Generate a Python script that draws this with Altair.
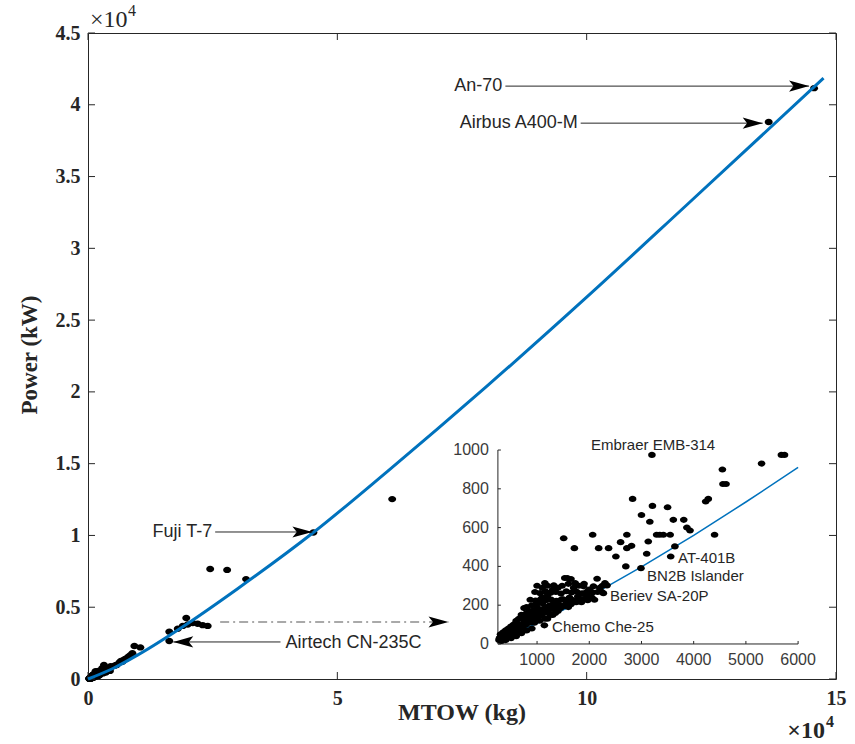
import altair as alt
import pandas as pd

# ---- aircraft data: maximum take-off weight (kg) and installed power (kW) ----
# light aircraft (shown again in the zoomed panel)
small_mtow = [
    3200, 5680, 5740, 5300, 4550, 4560, 4620, 4230, 4280, 2830,
    3210, 3500, 3000, 3160, 3610, 3810, 3870, 3930, 3290, 3350,
    3420, 3550, 4400, 1510, 2065, 1715, 2180, 2370, 2600, 2720,
    2720, 2810, 2510, 3130, 3100, 3640, 3560, 2700, 2990, 1530,
    1580, 1150, 1320, 1730, 1890, 2080, 2150, 2300, 2340, 2270,
    1140,
    270, 300, 330, 360, 390, 420, 450, 480, 510, 540,
    560, 590, 620, 650, 680, 700, 730, 760, 790, 820,
    850, 880, 900, 930, 960, 990, 1020, 1050, 1080, 1110,
    1140, 1170, 1200, 1240, 1280, 1320, 1360, 1400, 1450, 1500,
    1560, 1620, 1700, 1780, 1860, 1950, 2050,
    400, 500, 600, 700, 800, 900, 950, 1200, 1300, 1400,
    1600, 650, 700, 750, 800, 850, 900, 1000,
    960, 1060, 1160, 1260, 1360, 1460, 1560, 1660, 1760, 1860,
    1960, 2060, 2160, 2230,
    870, 970, 1070, 1170, 1270, 1370, 1470, 1570, 1670, 1770,
    1870, 1970, 2100,
    350, 450, 550, 600, 650, 750, 850, 950, 1050, 1100,
    1150, 1250, 1350, 1450, 1550, 1650, 1750, 1850, 1900, 2000,
    2200, 2250, 1000, 1100, 1200, 900, 800, 700, 600, 500,
    400, 300, 320, 280, 1300, 1400, 1200, 1000, 1100, 1700,
    1800, 1900, 1600, 1650, 1480,
]
small_power = [
    975, 975, 975, 930, 900, 825, 825, 735, 748, 748,
    712, 705, 665, 630, 640, 640, 600, 585, 563, 563,
    563, 563, 563, 545, 563, 494, 494, 494, 525, 563,
    494, 506, 451, 528, 465, 503, 451, 400, 391, 340,
    340, 314, 302, 314, 297, 297, 336, 314, 302, 262,
    96,
    20, 35, 25, 45, 30, 55, 40, 65, 50, 75,
    60, 85, 70, 95, 80, 100, 90, 115, 100, 125,
    110, 135, 120, 150, 130, 160, 140, 170, 150, 180,
    160, 190, 170, 200, 180, 210, 190, 220, 200, 230,
    210, 240, 220, 245, 230, 250, 240,
    20, 30, 40, 55, 70, 80, 110, 130, 150, 170,
    190, 130, 150, 185, 190, 170, 200, 210,
    268, 262, 271, 264, 268, 260, 272, 265, 269, 261,
    270, 266, 268, 270,
    228, 224, 231, 226, 229, 223, 230, 227, 228, 224,
    231, 226, 228,
    60, 80, 100, 110, 60, 140, 150, 175, 120, 210,
    130, 150, 160, 185, 195, 205, 215, 215, 260, 280,
    290, 300, 190, 240, 250, 170, 160, 130, 120, 90,
    70, 50, 15, 30, 280, 290, 300, 300, 290, 290,
    300, 310, 310, 335, 300,
]
# heavier aircraft
large_mtow = [
    6300, 6600, 6900, 7200, 7500, 7800, 8100, 8500, 8900, 9300,
    10500, 16300, 16300, 18000, 19000, 19700, 20000, 21000, 22000, 23000,
    24000, 24500, 27900, 31700, 45200, 61000, 136500, 145600,
]
large_power = [
    1150, 1250, 1200, 1350, 1400, 1450, 1550, 1650, 1800, 2300,
    2200, 3300, 2650, 3500, 3700, 4250, 3800, 3900, 3850, 3750,
    3700, 7660, 7600, 6960, 10200, 12530, 38800, 41160,
]

# fitted power-weight curve
fit_mtow = [0, 5000, 10000, 20000, 30000, 45000, 60000, 80000, 100000, 120000, 147500]
fit_power = [0, 730, 1680, 3870, 6290, 10150, 14450, 20400, 26600, 33000, 41850]
inset_fit_mtow = [250, 1000, 2000, 3000, 4000, 5000, 6000]
inset_fit_power = [20, 106, 244, 397, 560, 732, 910]

# axis ticks
x_ticks = [0, 50000, 100000, 150000]
y_ticks = [0, 5000, 10000, 15000, 20000, 25000, 30000, 35000, 40000, 45000]
inset_x_ticks = [1000, 2000, 3000, 4000, 5000, 6000]
inset_y_ticks = [0, 200, 400, 600, 800, 1000]

# annotations with arrows on the main axes
ann_labels = ["An-70", "Airbus A400-M", "Fuji T-7", "Airtech CN-235C"]
ann_text_x = [83300, 98400, 25100, 39400]
ann_text_y = [41300, 38720, 10240, 2540]
ann_start_x = [83700, 98800, 25500, 38600]
ann_tip_x = [144600, 135300, 45000, 17100]
ann_line_y = [41300, 38720, 10240, 2580]
ann_angle = [0, 0, 0, 180]
ann_align = ["right", "right", "right", "left"]

# dash-dot pointer towards the zoomed panel
zoom_start_x = [26500]
zoom_tip_x = [72300]
zoom_y = [3970]

# labels inside the zoomed panel
inset_labels = ["Embraer EMB-314", "AT-401B", "BN2B Islander", "Beriev SA-20P", "Chemo Che-25"]
inset_label_x = [3222, 3701, 3107, 2399, 1287]
inset_label_y = [1026, 444, 353, 247, 88]
inset_label_align = ["center", "left", "left", "left", "left"]

# ---- layout ----
W, H = 748, 646
X_DOM = [0, 150000]
Y_DOM = [0, 45000]
AXIS_COLOR = "#262626"
LINE_BLUE = "#0072BD"
SERIF = "Liberation Serif"
SANS = "Liberation Sans"
ELLIPSE = "M-1,0A1,0.8,0,1,0,1,0A1,0.8,0,1,0,-1,0Z"
ARROW = "M0,0L-1,-0.28L-0.78,0L-1,0.28Z"

# zoomed panel: its own value ranges, placed in a box given in main-axis units
IN_DOM_X = [250, 6000]
IN_DOM_Y = [0, 1000]
IN_BOX_X = [82200, 142400]
IN_BOX_Y = [2440, 15950]
IN_X0_PX = IN_BOX_X[0] / X_DOM[1] * W
IN_Y0_PX = H * (1 - IN_BOX_Y[0] / Y_DOM[1])


def inset_expr(field, dom, box):
    k = (box[1] - box[0]) / (dom[1] - dom[0])
    return f"{box[0]} + (datum.{field} - {dom[0]}) * {k}"


def to_inset(chart, fx, fy=None):
    chart = chart.transform_calculate(ix=inset_expr(fx, IN_DOM_X, IN_BOX_X))
    if fy:
        chart = chart.transform_calculate(iy=inset_expr(fy, IN_DOM_Y, IN_BOX_Y))
    return chart


aircraft = pd.DataFrame({
    "mtow": small_mtow + large_mtow,
    "power": small_power + large_power,
})
fit_df = pd.DataFrame({"mtow": fit_mtow, "power": fit_power})
inset_fit_df = pd.DataFrame({"mtow": inset_fit_mtow, "power": inset_fit_power})
ann_df = pd.DataFrame({
    "label": ann_labels, "tx": ann_text_x, "ty": ann_text_y,
    "x0": ann_start_x, "x1": ann_tip_x, "y": ann_line_y,
    "angle": ann_angle, "align": ann_align,
})
zoom_df = pd.DataFrame({"x0": zoom_start_x, "x1": zoom_tip_x, "y": zoom_y, "angle": [0]})
inset_lab_df = pd.DataFrame({
    "label": inset_labels, "x": inset_label_x, "y": inset_label_y, "align": inset_label_align,
})

main_x = alt.Scale(domain=X_DOM, nice=False, zero=False)
main_y = alt.Scale(domain=Y_DOM, nice=False, zero=False)

X_AXIS = alt.Axis(
    values=x_ticks, labelExpr="datum.value / 10000", ticks=False, domain=False,
    grid=False, labelFont=SERIF, labelFontWeight="bold", labelFontSize=20,
    labelColor=AXIS_COLOR, labelPadding=9, labelFlush=False, labelOverlap=False,
    title=None,
)
Y_AXIS = alt.Axis(
    values=y_ticks, labelExpr="datum.value / 10000", ticks=False, domain=False,
    grid=False, labelFont=SERIF, labelFontWeight="bold", labelFontSize=20,
    labelColor=AXIS_COLOR, labelPadding=8, labelOverlap=False, title=None,
)

# scatter of all aircraft on the main axes
dots = alt.Chart(aircraft).mark_point(
    shape=ELLIPSE, filled=True, size=64, color="black", opacity=1
).encode(
    x=alt.X("mtow:Q", scale=main_x, axis=X_AXIS),
    y=alt.Y("power:Q", scale=main_y, axis=Y_AXIS),
)

fit_line = alt.Chart(fit_df).mark_line(
    color=LINE_BLUE, strokeWidth=3, interpolate="monotone"
).encode(x="mtow:Q", y="power:Q")

# inward ticks on all four sides
xt = pd.DataFrame({"v": x_ticks})
yt = pd.DataFrame({"v": y_ticks})
tick_style = dict(color=AXIS_COLOR, strokeWidth=1)
ticks_bottom = alt.Chart(xt).mark_rule(**tick_style).encode(
    x="v:Q", y=alt.value(H), y2=alt.value(H - 7))
ticks_top = alt.Chart(xt).mark_rule(**tick_style).encode(
    x="v:Q", y=alt.value(0), y2=alt.value(7))
ticks_left = alt.Chart(yt).mark_rule(**tick_style).encode(
    y="v:Q", x=alt.value(0), x2=alt.value(7))
ticks_right = alt.Chart(yt).mark_rule(**tick_style).encode(
    y="v:Q", x=alt.value(W), x2=alt.value(W - 7))

# annotation arrows
ann_lines = alt.Chart(ann_df).mark_rule(color=AXIS_COLOR, strokeWidth=1).encode(
    x="x0:Q", x2="x1:Q", y="y:Q")
ann_heads = alt.Chart(ann_df).mark_point(
    shape=ARROW, filled=True, size=1600, color="black", opacity=1
).encode(x="x1:Q", y="y:Q", angle=alt.Angle("angle:Q", scale=None))
ann_text_r = alt.Chart(ann_df).transform_filter("datum.align == 'right'").mark_text(
    align="right", baseline="middle", font=SANS, fontSize=18, color=AXIS_COLOR, dx=-1
).encode(x="tx:Q", y="ty:Q", text="label:N")
ann_text_l = alt.Chart(ann_df).transform_filter("datum.align == 'left'").mark_text(
    align="left", baseline="middle", font=SANS, fontSize=18, color=AXIS_COLOR, dx=1
).encode(x="tx:Q", y="ty:Q", text="label:N")

zoom_line = alt.Chart(zoom_df).mark_rule(
    color="#555555", strokeWidth=1.2, strokeDash=[9, 4, 2, 4]
).encode(x="x0:Q", x2="x1:Q", y="y:Q")
zoom_head = alt.Chart(zoom_df).mark_point(
    shape=ARROW, filled=True, size=1600, color="black", opacity=1
).encode(x="x1:Q", y="y:Q", angle=alt.Angle("angle:Q", scale=None))

# exponent markers and axis titles
one = pd.DataFrame({"t": [""]})
exp_top_base = alt.Chart(one).mark_text(
    text="×10", align="left", baseline="alphabetic", font=SERIF, fontSize=24,
    color=AXIS_COLOR).encode(x=alt.value(2), y=alt.value(-6))
exp_top_pow = alt.Chart(one).mark_text(
    text="4", align="left", baseline="alphabetic", font=SERIF, fontSize=16,
    color=AXIS_COLOR).encode(x=alt.value(40), y=alt.value(-17))
exp_bot_base = alt.Chart(one).mark_text(
    text="×10", align="right", baseline="alphabetic", font=SERIF, fontSize=24,
    fontWeight="bold", color=AXIS_COLOR).encode(x=alt.value(737), y=alt.value(705))
exp_bot_pow = alt.Chart(one).mark_text(
    text="4", align="left", baseline="alphabetic", font=SERIF, fontSize=16,
    fontWeight="bold", color=AXIS_COLOR).encode(x=alt.value(738), y=alt.value(694))
x_title = alt.Chart(one).mark_text(
    text="MTOW (kg)", align="center", baseline="middle", font=SERIF, fontSize=24,
    fontWeight="bold", color=AXIS_COLOR).encode(x=alt.value(W / 2), y=alt.value(680))
y_title = alt.Chart(one).mark_text(
    text="Power (kW)", align="center", baseline="middle", font=SERIF, fontSize=23,
    fontWeight="bold", color=AXIS_COLOR, angle=270).encode(x=alt.value(-58), y=alt.value(322))

# ---- zoomed panel for aircraft below 6000 kg ----
INSET_TEXT = "#3a3a3a"

in_dots = to_inset(
    alt.Chart(aircraft).transform_filter("datum.mtow <= 6000"), "mtow", "power"
).mark_point(
    shape=ELLIPSE, filled=True, size=58, color="black", opacity=1
).encode(x="ix:Q", y="iy:Q")

in_fit = to_inset(alt.Chart(inset_fit_df), "mtow", "power").mark_line(
    color=LINE_BLUE, strokeWidth=1.5
).encode(x="ix:Q", y="iy:Q")

in_axes_df = pd.DataFrame({"ax0": [250, 250], "ax1": [6000, 250], "ay0": [0, 0], "ay1": [0, 1000]})
in_axes = alt.Chart(in_axes_df).transform_calculate(
    ix0=inset_expr("ax0", IN_DOM_X, IN_BOX_X),
    ix1=inset_expr("ax1", IN_DOM_X, IN_BOX_X),
    iy0=inset_expr("ay0", IN_DOM_Y, IN_BOX_Y),
    iy1=inset_expr("ay1", IN_DOM_Y, IN_BOX_Y),
).mark_rule(color=AXIS_COLOR, strokeWidth=1).encode(
    x="ix0:Q", x2="ix1:Q", y="iy0:Q", y2="iy1:Q")

ixt = pd.DataFrame({"v": inset_x_ticks, "lab": [str(v) for v in inset_x_ticks]})
iyt = pd.DataFrame({"v": inset_y_ticks, "lab": [str(v) for v in inset_y_ticks]})
in_xticks = to_inset(alt.Chart(ixt), "v").mark_rule(color=AXIS_COLOR).encode(
    x="ix:Q", y=alt.value(IN_Y0_PX), y2=alt.value(IN_Y0_PX - 3))
in_yticks = alt.Chart(iyt).transform_calculate(
    iy=inset_expr("v", IN_DOM_Y, IN_BOX_Y)
).mark_rule(color=AXIS_COLOR).encode(
    y="iy:Q", x=alt.value(IN_X0_PX), x2=alt.value(IN_X0_PX + 3))
in_xlabels = to_inset(alt.Chart(ixt), "v").mark_text(
    align="center", baseline="top", font=SANS, fontSize=16, color=INSET_TEXT
).encode(x="ix:Q", y=alt.value(IN_Y0_PX + 8), text="lab:N")
in_ylabels = alt.Chart(iyt).transform_calculate(
    iy=inset_expr("v", IN_DOM_Y, IN_BOX_Y)
).mark_text(
    align="right", baseline="middle", font=SANS, fontSize=16, color=INSET_TEXT
).encode(y="iy:Q", x=alt.value(IN_X0_PX - 9), text="lab:N")

in_lab_c = to_inset(
    alt.Chart(inset_lab_df).transform_filter("datum.align == 'center'"), "x", "y"
).mark_text(
    align="center", baseline="middle", font=SANS, fontSize=15, color=AXIS_COLOR
).encode(x="ix:Q", y="iy:Q", text="label:N")
in_lab_l = to_inset(
    alt.Chart(inset_lab_df).transform_filter("datum.align == 'left'"), "x", "y"
).mark_text(
    align="left", baseline="middle", font=SANS, fontSize=15, color=AXIS_COLOR
).encode(x="ix:Q", y="iy:Q", text="label:N")

chart = alt.layer(
    dots,
    ticks_bottom, ticks_top, ticks_left, ticks_right,
    fit_line,
    ann_lines, ann_heads, ann_text_r, ann_text_l,
    zoom_line, zoom_head,
    exp_top_base, exp_top_pow, exp_bot_base, exp_bot_pow, x_title, y_title,
    in_axes, in_xticks, in_yticks, in_xlabels, in_ylabels,
    in_fit, in_dots, in_lab_c, in_lab_l,
).properties(
    width=W, height=H,
    autosize=alt.AutoSizeParams(type="none"),
    padding={"left": 88, "top": 33, "right": 19, "bottom": 65},
).configure_view(
    stroke=AXIS_COLOR, strokeWidth=1
)

chart.save("out.html", embed_options={"renderer": "svg", "actions": False})
